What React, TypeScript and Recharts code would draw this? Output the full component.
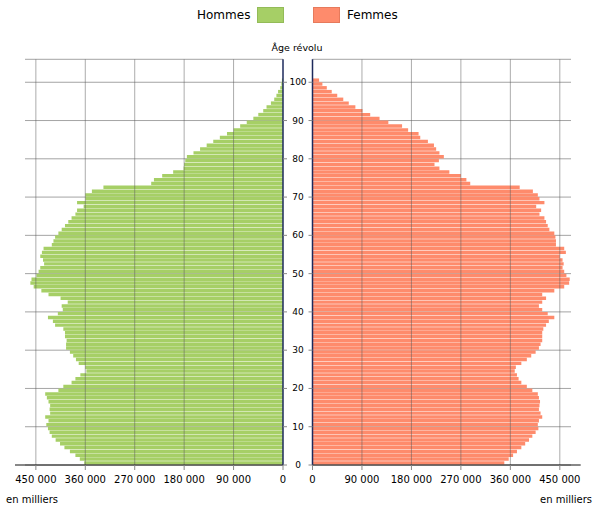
import { BarChart, Bar, XAxis, YAxis, ReferenceLine, CartesianGrid } from 'recharts'

// population by single year of age, in thousands
const ages = [
  0, 1, 2, 3, 4, 5, 6, 7, 8, 9, 10, 11, 12, 13, 14, 15, 16, 17, 18, 19,
  20, 21, 22, 23, 24, 25, 26, 27, 28, 29, 30, 31, 32, 33, 34, 35, 36, 37, 38, 39,
  40, 41, 42, 43, 44, 45, 46, 47, 48, 49, 50, 51, 52, 53, 54, 55, 56, 57, 58, 59,
  60, 61, 62, 63, 64, 65, 66, 67, 68, 69, 70, 71, 72, 73, 74, 75, 76, 77, 78, 79,
  80, 81, 82, 83, 84, 85, 86, 87, 88, 89, 90, 91, 92, 93, 94, 95, 96, 97, 98, 99, 100,
]

const hommes = [
  362, 370, 378, 388, 398, 406, 414, 421, 425, 428, 431, 427, 433, 424, 425, 424, 427, 430, 433, 409,
  400, 385, 378, 369, 358, 360, 372, 377, 382, 388, 395, 395, 394, 397, 397, 400, 415, 419, 428, 410,
  401, 403, 392, 405, 427, 440, 454, 460, 458, 449, 445, 442, 435, 437, 442, 439, 436, 421, 418, 415,
  409, 403, 397, 391, 385, 378, 375, 363, 375, 360, 360, 348, 327, 240, 235, 220, 200, 181, 180, 178,
  175, 163, 151, 139, 127, 115, 102, 90, 78, 66, 54, 45, 36, 30, 22, 16, 12, 9, 5, 3, 2,
]

const femmes = [
  349, 357, 365, 372, 380, 387, 394, 400, 406, 411, 410, 412, 418, 415, 412, 413, 414, 412, 410, 400,
  390, 380, 375, 372, 368, 370, 380, 390, 398, 406, 412, 415, 418, 418, 418, 420, 425, 430, 440, 428,
  418, 412, 418, 425, 418, 440, 458, 467, 468, 462, 458, 455, 457, 455, 450, 461, 458, 443, 443, 442,
  440, 431, 428, 425, 422, 413, 416, 407, 422, 413, 410, 401, 377, 287, 280, 270, 249, 231, 222, 230,
  239, 231, 225, 221, 210, 196, 193, 174, 163, 138, 122, 105, 91, 78, 66, 56, 45, 35, 26, 18, 12,
]

const valueTicks = [0, 90, 180, 270, 360, 450]
const ageTicks = [0, 10, 20, 30, 40, 50, 60, 70, 80, 90, 100]
const gridTicks = [90, 180, 270, 360, 450]

const data = ages.map((age, i) => ({ age, hommes: hommes[i], femmes: femmes[i] }))

const GREEN = '#a6cf66'
const ORANGE = '#fe8b6c'
const NAVY = '#1d2a5c'
const GRID = '#5a5a5a'
const FONT = '"DejaVu Sans", Verdana, sans-serif'

const fmt = (v: number) => (v === 0 ? '0' : `${v} 000`)
// bar for age a covers [a, a+1]
const ageMid = (d: { age: number }) => d.age + 0.5

function AgeTick(props: any) {
  const { y, payload } = props
  return (
    <text x={298} y={y} textAnchor="middle" dominantBaseline="central" fontSize={9} fill="#000" fontFamily={FONT}>
      {payload.value}
    </text>
  )
}

const tickStyle = { fontSize: 10, fill: '#000', fontFamily: FONT }

export default function App() {
  return (
    <div style={{ position: 'absolute', left: 0, top: 0, width: 600, height: 508, background: '#fff', fontFamily: FONT }}>
      {/* legend */}
      <div style={{ position: 'absolute', left: 197, top: 8, fontSize: 12, lineHeight: '15px' }}>Hommes</div>
      <div style={{ position: 'absolute', left: 257, top: 7, width: 25, height: 14, background: GREEN, border: '1px solid #93bb58' }} />
      <div style={{ position: 'absolute', left: 313, top: 7, width: 25, height: 14, background: ORANGE, border: '1px solid #e67a5c' }} />
      <div style={{ position: 'absolute', left: 347, top: 8, fontSize: 12, lineHeight: '15px' }}>Femmes</div>

      <div style={{ position: 'absolute', left: 247, width: 100, top: 41, textAlign: 'center', fontSize: 9.5, lineHeight: '14px' }}>
        Âge révolu
      </div>
      <div style={{ position: 'absolute', left: 6, top: 493, fontSize: 10, lineHeight: '14px' }}>en milliers</div>
      <div style={{ position: 'absolute', left: 540, top: 493, fontSize: 10, lineHeight: '14px' }}>en milliers</div>

      {/* men, left side */}
      <div style={{ position: 'absolute', left: 0, top: 0 }}>
        <BarChart width={310} height={508} data={data} layout="vertical" margin={{ top: 59.3, right: 0, bottom: 13, left: 15 }} barSize={3.45}>
          <CartesianGrid vertical={false} x={25} width={258} stroke={GRID} strokeOpacity={0.55} />
          <XAxis
            type="number"
            domain={[0, 488]}
            reversed
            ticks={valueTicks}
            interval={0}
            tickFormatter={fmt}
            height={30}
            tickSize={5}
            tickMargin={6}
            tick={tickStyle}
            axisLine={{ stroke: '#111' }}
            tickLine={{ stroke: '#888' }}
          />
          <YAxis
            type="number"
            dataKey={ageMid}
            orientation="right"
            domain={[0, 106]}
            reversed
            ticks={ageTicks}
            interval={0}
            width={27}
            tickSize={4}
            tick={<AgeTick />}
            axisLine={{ stroke: NAVY, strokeWidth: 1.5 }}
            tickLine={{ stroke: '#888' }}
          />
          <Bar dataKey="hommes" fill={GREEN} isAnimationActive={false} />
          {gridTicks.map((t) => (
            <ReferenceLine key={'v' + t} x={t} stroke={GRID} strokeOpacity={0.5} />
          ))}
        </BarChart>
      </div>

      {/* women, right side */}
      <div style={{ position: 'absolute', left: 290, top: 0 }}>
        <BarChart width={310} height={508} data={data} layout="vertical" margin={{ top: 59.3, right: 19.3, bottom: 13, left: 0 }} barSize={3.45}>
          <CartesianGrid vertical={false} x={22.5} width={258.5} stroke={GRID} strokeOpacity={0.55} />
          <XAxis
            type="number"
            domain={[0, 488]}
            ticks={valueTicks}
            interval={0}
            tickFormatter={fmt}
            height={30}
            tickSize={5}
            tickMargin={6}
            tick={tickStyle}
            axisLine={{ stroke: '#111' }}
            tickLine={{ stroke: '#888' }}
          />
          <YAxis
            type="number"
            dataKey={ageMid}
            orientation="left"
            domain={[0, 106]}
            reversed
            ticks={ageTicks}
            interval={0}
            width={22.5}
            tickSize={4}
            tickFormatter={() => ''}
            axisLine={{ stroke: NAVY, strokeWidth: 1.5 }}
            tickLine={{ stroke: '#888' }}
          />
          <Bar dataKey="femmes" fill={ORANGE} isAnimationActive={false} />
          {gridTicks.map((t) => (
            <ReferenceLine key={'v' + t} x={t} stroke={GRID} strokeOpacity={0.5} />
          ))}
        </BarChart>
      </div>
    </div>
  )
}
